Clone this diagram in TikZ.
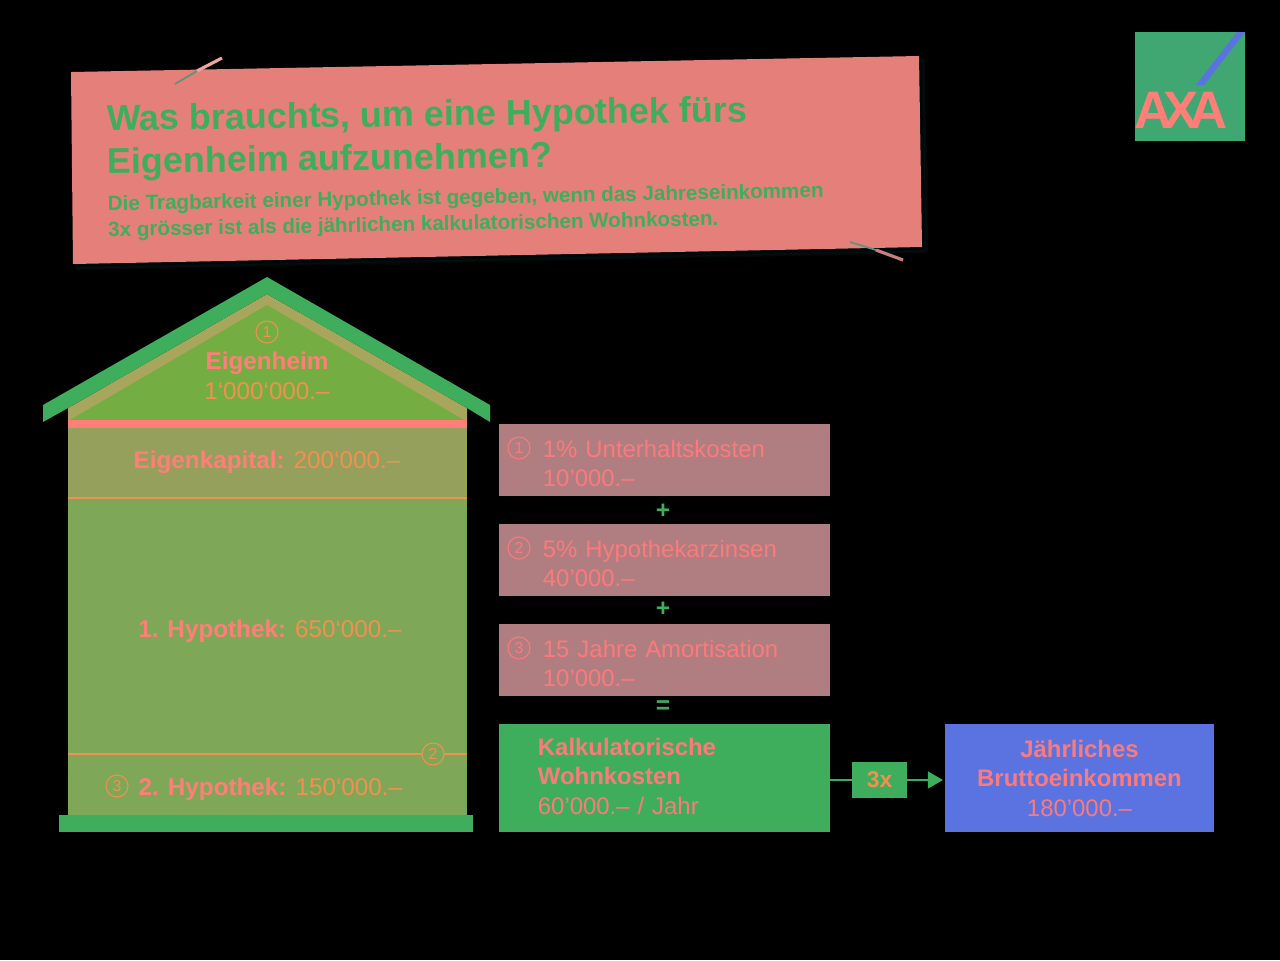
\documentclass[tikz,border=0pt]{standalone}
\usepackage{fontspec}
\setmainfont{Liberation Sans}
\newfontfamily\axafont[LetterSpace=-18]{Liberation Sans}
\usetikzlibrary{arrows.meta}
\definecolor{gruen}{HTML}{3FAE5C}
\definecolor{banner}{HTML}{E57F79}
\definecolor{dach}{HTML}{A8A55C}
\definecolor{giebel}{HTML}{74AE42}
\definecolor{band}{HTML}{FF7F78}
\definecolor{kapital}{HTML}{94A05C}
\definecolor{mauer}{HTML}{7EA858}
\definecolor{linie}{HTML}{F29050}
\definecolor{kosten}{HTML}{B07E80}
\definecolor{schrift}{HTML}{FB7A7C}
\definecolor{blau}{HTML}{5A73E0}
\definecolor{logo}{HTML}{40A672}
\tikzset{
 boxtext/.style={font=\fontsize{6.8}{8.4}\selectfont,text=schrift},
 housetext/.style={font=\fontsize{6.9}{8.4}\selectfont,text=linie,inner sep=0},
 costbox/.style={boxtext,fill=kosten,minimum height=.72cm,text width=2.43cm,inner xsep=.44cm,inner ysep=0,align=left,text height=7pt},
 resultbox/.style={boxtext,minimum height=1.08cm,inner ysep=0,outer sep=0,align=left},
 numcircle/.style={circle,draw,line width=.3pt,minimum size=.22cm,inner sep=0,font=\fontsize{4.5}{4.5}\selectfont},
 sign/.style={font=\fontsize{7}{7}\selectfont\bfseries,text=gruen,inner sep=0}
}
\begin{document}
\begin{tikzpicture}[x=.01cm,y=-.01cm]
\fill[black] (0,0) rectangle (1280,960);
\useasboundingbox (0,0) rectangle (1280,960);

\foreach \w/\c in {14/5,9/8,4/11}
{
\draw[color=teal!\c!black,line width=\w*.1pt,line join=round]
	(75,76) -- (923,60) -- (926,251) -- (77,268) -- cycle;
}
\fill[banner] (71,72) -- (919,56) -- (922,247) -- (73,264) -- cycle;
\draw[line width=.9pt,banner!70!white] (197,71) -- (222,58);
\draw[line width=.5pt,logo!50!gray] (175,84) -- (197,71);
\draw[line width=.9pt,banner!70!gray] (876,250) -- (903,260);
\draw[line width=.5pt,logo!50!gray] (850,242) -- (876,250);

\node[rotate=.8,anchor=north west,inner sep=0,align=left,text=gruen,font=\fontsize{10.2}{12.2}\selectfont\bfseries] (titel) at (106,104)
 {Was brauchts, um eine Hypothek fürs\\Eigenheim aufzunehmen?};
\node[rotate=1.05,anchor=north west,inner sep=0,align=left,text=gruen,font=\fontsize{5.86}{7.4}\selectfont\bfseries] (untertitel) at (107,195)
 {Die Tragbarkeit einer Hypothek ist gegeben, wenn das Jahreseinkommen\\3x grösser ist als die jährlichen kalkulatorischen Wohnkosten.};

\fill[logo] (1135,32) rectangle (1245,141);
\fill[blau] (1237,32) -- (1245,32) -- (1204,85) -- (1196,85) -- cycle;
\node[inner sep=0,text=band,font=\fontsize{15}{15}\selectfont\bfseries\axafont] (axa) at (1181,110) {AXA};

\fill[dach] (68,408) -- (267,294) -- (467,408) -- (467,420) -- (68,420) -- cycle;
\fill[gruen] (43,405) -- (267,277) -- (490,405) -- (490,422) -- (467,408) -- (267,294) -- (68,408) -- (43,422) -- cycle;
\fill[giebel] (70,420) -- (267,305) -- (464,420) -- cycle;
\fill[band] (68,420) rectangle (467,428);
\fill[kapital] (68,428) rectangle (467,498);
\fill[mauer] (68,498) rectangle (467,815);
\fill[gruen] (59,815) rectangle (473,832);
\draw[linie,line width=.3pt] (68,498) -- (467,498);
\draw[linie,line width=.3pt] (68,754) -- (467,754);

\node[numcircle,linie] (h1) at (267,332) {1};
\node[numcircle,linie,fill=mauer] (h2) at (433,754) {2};
\node[numcircle,linie] (h3) at (117,786) {3};

\node[housetext,align=center] (eigenheim) at (267,376) {\textcolor{band}{\textbf{Eigenheim}}\\1‘000‘000.–};
\node[housetext] (eigenkapital) at (267,462) {\textcolor{band}{\textbf{Eigenkapital:}} 200‘000.–};
\node[housetext] (hyp1) at (270,631) {\textcolor{band}{\textbf{1. Hypothek:}} 650‘000.–};
\node[housetext,anchor=west] (hyp2) at (138,789) {\textcolor{band}{\textbf{2. Hypothek:}} 150‘000.–};

\foreach \n/\y/\t/\b in {1/460/1\% Unterhaltskosten/10'000.–,2/560/5\% Hypothekarzinsen/40'000.–,3/660/15 Jahre Amortisation/10'000.–}
{
\node[costbox] (kosten\n) at (664.5,\y) {\t\\\b};
\node[numcircle,schrift] (num\n) at (519,\y-12) {\n};
}
\node[sign] (plus1) at (663,511) {+};
\node[sign] (plus2) at (663,609) {+};
\node[sign] (gleich) at (663,707) {=};

\node[resultbox,fill=gruen,text width=2.53cm,inner xsep=.39cm,text depth=18pt] (wohnkosten) at (664.5,778)
 {\textbf{Kalkulatorische}\\\textbf{Wohnkosten}\\60'000.– / Jahr};
\node[resultbox,fill=blau,text width=2.69cm,inner xsep=0,align=center] (einkommen) at (1079.5,778)
 {\textbf{Jährliches}\\\textbf{Bruttoeinkommen}\\180'000.–};
\node[fill=gruen,minimum width=.55cm,minimum height=.36cm,inner sep=0,outer sep=0,text=linie,font=\fontsize{6.5}{8}\selectfont\bfseries] (faktor) at (879.5,780) {3x};

\draw[gruen,line width=.4pt] (wohnkosten.east |- faktor) -- (faktor);
\draw[gruen,line width=.4pt,-{Triangle[length=.15cm,width=.17cm]},shorten >=.02cm] (faktor) -- (faktor -| einkommen.west);
\end{tikzpicture}
\end{document}
